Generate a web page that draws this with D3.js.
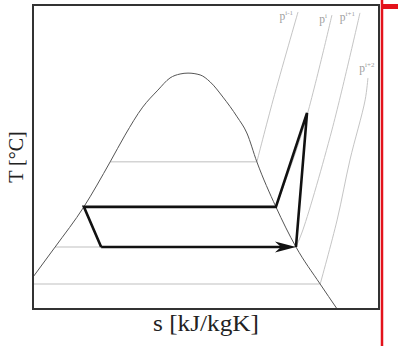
<!DOCTYPE html>
<html>
<head>
<meta charset="utf-8">
<script src="https://cdn.jsdelivr.net/npm/d3@7"></script>
<style>
  html, body { margin: 0; padding: 0; background: #fff; }
  svg { display: block; }
</style>
</head>
<body>
<svg id="chart" width="398" height="346"></svg>
<script>
// Saturation dome (entropy s, temperature T) in schematic units
const domeS = [0, 6.4, 14.7, 22.3, 26.6, 31.7, 36.1, 39.6, 42.5, 44.8, 48.3, 51.2, 54.9, 59.0, 61.8, 64.7, 70.2, 76.0, 83.0, 87.9];
const domeT = [10.5, 20.4, 33.6, 48.4, 57.2, 66.4, 72.0, 76.0, 77.3, 77.6, 77.0, 74.7, 69.7, 63.2, 57.9, 48.4, 33.6, 20.4, 8.2, 0];

// Isobars: label, saturation temperature, two-phase start, superheated branch
const isobarNames = ["i-1", "i", "i+1", "i+2"];
const isobarSatT = [48.4, 33.6, 20.4, 8.2];
const isobarLiqS = [22.3, 14.7, 6.4, 0];
const isobarVapS = [
  [64.7, 69.4, 76.6],
  [70.2, 78.0, 86.4],
  [76.0, 78.0, 86.4, 94.5],
  [83.0, 87.9, 91.6, 96.0, 96.8]
];
const isobarVapT = [
  [48.4, 68.8, 97.7],
  [33.6, 58.9, 96.7],
  [20.4, 26.0, 58.9, 97.4],
  [8.2, 29.3, 49.0, 68.8, 76.0]
];

// Heat-pump cycle: condenser outlet, sat. vapour, compressor outlet, evaporator outlet, throttle outlet
const cycleS = [14.7, 70.2, 79.2, 76.0, 19.7];
const cycleT = [33.6, 33.6, 64.5, 20.4, 20.4];

const xLabel = "s [kJ/kgK]";
const yLabel = "T [°C]";

const svg = d3.select("#chart");
const x = d3.scaleLinear().domain([0, 100]).range([33, 379]);
const y = d3.scaleLinear().domain([0, 100]).range([309, 5]);

const serif = "'Liberation Serif', 'Times New Roman', serif";

// Two-phase isobar segments (horizontal)
svg.append("g").selectAll("line")
  .data(isobarSatT)
  .join("line")
  .attr("x1", (d, i) => x(isobarLiqS[i]))
  .attr("x2", (d, i) => x(isobarVapS[i][0]))
  .attr("y1", d => y(d))
  .attr("y2", d => y(d))
  .attr("stroke", "#d4d4d4")
  .attr("stroke-width", 1.5);

// Superheated isobar branches
const isoLine = d3.line().x(d => x(d[0])).y(d => y(d[1])).curve(d3.curveCatmullRom);
svg.append("g").selectAll("path")
  .data(isobarVapS.map((ss, i) => ss.map((s, j) => [s, isobarVapT[i][j]])))
  .join("path")
  .attr("d", isoLine)
  .attr("fill", "none")
  .attr("stroke", "#bdbdbd")
  .attr("stroke-width", 0.9);

// Isobar labels near the top of each branch
const labels = svg.append("g")
  .attr("font-family", serif)
  .attr("fill", "#a0a0a0");
isobarNames.forEach((name, i) => {
  const ss = isobarVapS[i], tt = isobarVapT[i];
  const topS = ss[ss.length - 1], topT = tt[tt.length - 1];
  const last = i === isobarNames.length - 1;
  const t = labels.append("text")
    .attr("x", x(topS) + (last ? -1 : -5))
    .attr("y", y(topT) + (last ? -6 : 8))
    .attr("text-anchor", last ? "middle" : "end")
    .attr("font-size", 11.5);
  t.append("tspan").text("p");
  t.append("tspan").attr("font-size", 7).attr("dy", -5).text(name);
});

// Saturation dome
const domeLine = d3.line().x(d => x(d[0])).y(d => y(d[1])).curve(d3.curveMonotoneX);
svg.append("path")
  .attr("d", domeLine(domeS.map((s, i) => [s, domeT[i]])))
  .attr("fill", "none")
  .attr("stroke", "#555")
  .attr("stroke-width", 1);

// Cycle
const pts = cycleS.map((s, i) => [x(s), y(cycleT[i])]);
const cyc = svg.append("g")
  .attr("fill", "none")
  .attr("stroke", "#111")
  .attr("stroke-width", 2.6)
  .attr("stroke-linejoin", "miter");
cyc.append("path")
  .attr("d", d3.line()([pts[4], pts[0], pts[1], pts[2], pts[3]]));
// Evaporation with arrow head at the evaporator outlet
const tip = pts[3];
cyc.append("path")
  .attr("d", d3.line()([pts[4], [tip[0] - 14, tip[1]]]));
svg.append("path")
  .attr("d", `M${tip[0]},${tip[1]} L${tip[0] - 21},${tip[1] - 5.5} L${tip[0] - 15},${tip[1]} L${tip[0] - 21},${tip[1] + 5.5} Z`)
  .attr("fill", "#111");

// Plot frame
svg.append("rect")
  .attr("x", x(0)).attr("y", y(100))
  .attr("width", x(100) - x(0)).attr("height", y(0) - y(100))
  .attr("fill", "none")
  .attr("stroke", "#333")
  .attr("stroke-width", 2);

// Axis titles
svg.append("text")
  .attr("x", (x(0) + x(100)) / 2)
  .attr("y", 331)
  .attr("text-anchor", "middle")
  .attr("font-family", serif)
  .attr("font-size", 23)
  .attr("textLength", 106)
  .attr("lengthAdjust", "spacingAndGlyphs")
  .attr("fill", "#222")
  .text(xLabel);
svg.append("text")
  .attr("transform", `translate(23,${(y(0) + y(100)) / 2}) rotate(-90)`)
  .attr("text-anchor", "middle")
  .attr("font-family", serif)
  .attr("font-size", 20)
  .attr("fill", "#222")
  .text(yLabel);

// Red margin marker
svg.append("line")
  .attr("x1", 382).attr("x2", 382)
  .attr("y1", 0).attr("y2", 346)
  .attr("stroke", "#e3121b")
  .attr("stroke-width", 2.5);
svg.append("rect")
  .attr("x", 382).attr("y", 4)
  .attr("width", 16).attr("height", 5)
  .attr("fill", "#e3121b");
</script>
</body>
</html>
